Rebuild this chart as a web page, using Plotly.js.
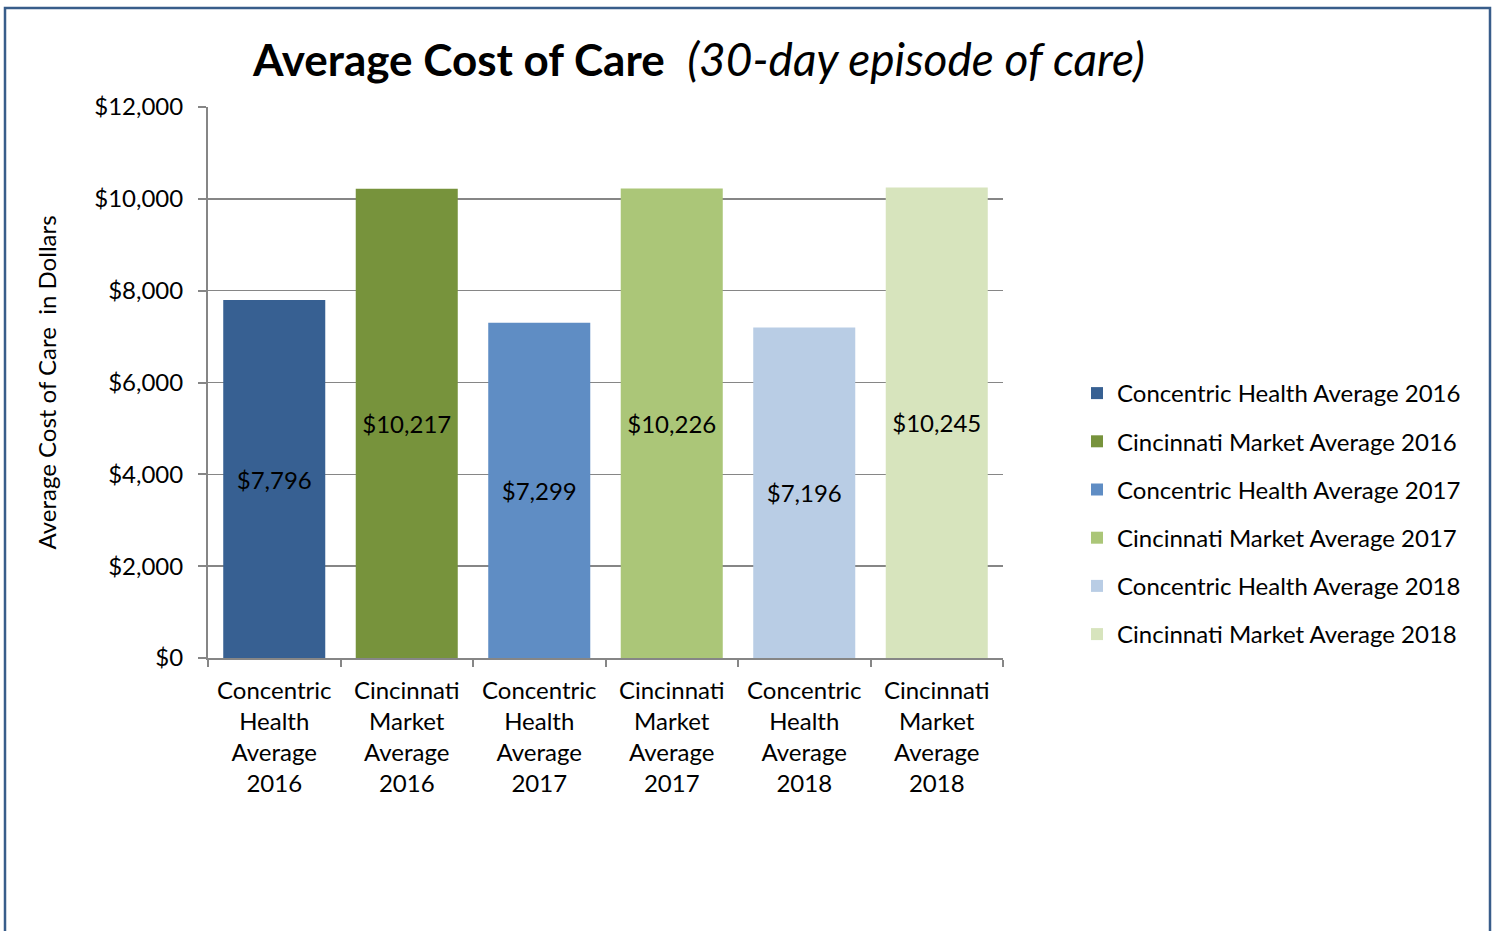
<!DOCTYPE html>
<html>
<head>
<meta charset="utf-8">
<script src="https://cdn.plot.ly/plotly-3.0.1.min.js"></script>
<style>
html,body{margin:0;padding:0;background:#fff;}
#chart{width:1494px;height:931px;}
</style>
</head>
<body>
<div id="chart"></div>
<script>
const seriesNames = [
  "Concentric Health Average 2016",
  "Cincinnati Market Average 2016",
  "Concentric Health Average 2017",
  "Cincinnati Market Average 2017",
  "Concentric Health Average 2018",
  "Cincinnati Market Average 2018"
];
const categoryLabels = [
  "Concentric<br>Health<br>Average<br>2016",
  "Cincinnati<br>Market<br>Average<br>2016",
  "Concentric<br>Health<br>Average<br>2017",
  "Cincinnati<br>Market<br>Average<br>2017",
  "Concentric<br>Health<br>Average<br>2018",
  "Cincinnati<br>Market<br>Average<br>2018"
];
const values = [7796, 10217, 7299, 10226, 7196, 10245];
const colors = ["#376092", "#77933C", "#5F8DC4", "#ABC678", "#B9CDE5", "#D7E4BD"];
const yTickVals = [0, 2000, 4000, 6000, 8000, 10000, 12000];
const yTickText = ["$0", "$2,000", "$4,000", "$6,000", "$8,000", "$10,000", "$12,000"];

const FONT = "Lato, 'Liberation Sans', sans-serif";
const FS = 24;

const traces = seriesNames.map((name, i) => ({
  type: "bar",
  name: name,
  x: [categoryLabels[i]],
  y: [values[i]],
  marker: {color: colors[i], line: {width: 0}},
  text: ["$" + values[i].toLocaleString("en-US")],
  textposition: "inside",
  insidetextanchor: "middle",
  textangle: 0,
  textfont: {family: FONT, size: FS, color: "#000"},
  legendgroup: "g" + i,
  hoverinfo: "name+y"
}));

const layout = {
  width: 1494,
  height: 931,
  paper_bgcolor: "#fff",
  plot_bgcolor: "#fff",
  margin: {l: 208, r: 491, t: 107, b: 273, pad: 0},
  barmode: "overlay",
  bargap: 0.23,
  showlegend: true,
  font: {family: FONT, size: FS, color: "#000"},
  title: {
    text: "<b>Average Cost of Care</b>  <i><span style=\"font-size:46px\">(30-day episode of care)</span></i>",
    font: {family: FONT, size: 44, color: "#000"},
    x: 699 / 1494, xanchor: "center", xref: "container",
    y: 0.935, yanchor: "middle", yref: "container"
  },
  xaxis: {
    type: "category",
    categoryorder: "array",
    categoryarray: categoryLabels,
    showline: true, linecolor: "#868686", linewidth: 2,
    ticks: "outside", tickson: "boundaries", ticklen: 7, tickcolor: "#868686", tickwidth: 2,
    tickfont: {family: FONT, size: FS, color: "#000"},
    ticklabelstandoff: 10,
    showgrid: false,
    zeroline: false,
    fixedrange: true
  },
  yaxis: {
    range: [0, 12000],
    tickvals: yTickVals,
    ticktext: yTickText,
    showline: true, linecolor: "#868686", linewidth: 2,
    ticks: "outside", ticklen: 8, tickcolor: "#868686", tickwidth: 2,
    showgrid: true, gridcolor: "#868686", gridwidth: 1.5,
    zeroline: false,
    tickfont: {family: FONT, size: FS, color: "#000"},
    ticklabelstandoff: 10,
    title: {text: "Average Cost of Care  in Dollars", font: {family: FONT, size: FS, color: "#000"}, standoff: 31},
    fixedrange: true
  },
  legend: {
    x: (1077 - 208) / 795, xanchor: "left",
    y: (658 - 514) / 551, yanchor: "middle",
    font: {family: FONT, size: FS, color: "#000"},
    traceorder: "grouped",
    tracegroupgap: 14,
    itemwidth: 30,
    bgcolor: "rgba(0,0,0,0)"
  },
  shapes: [{
    type: "rect", xref: "paper", yref: "paper",
    x0: (5 - 208) / 795, x1: (1490 - 208) / 795,
    y0: (658 - 960) / 551, y1: (658 - 8) / 551,
    line: {color: "#385D8A", width: 2.5},
    fillcolor: "rgba(0,0,0,0)",
    layer: "above"
  }]
};

Plotly.newPlot("chart", traces, layout, {displayModeBar: false, staticPlot: true});
</script>
</body>
</html>
